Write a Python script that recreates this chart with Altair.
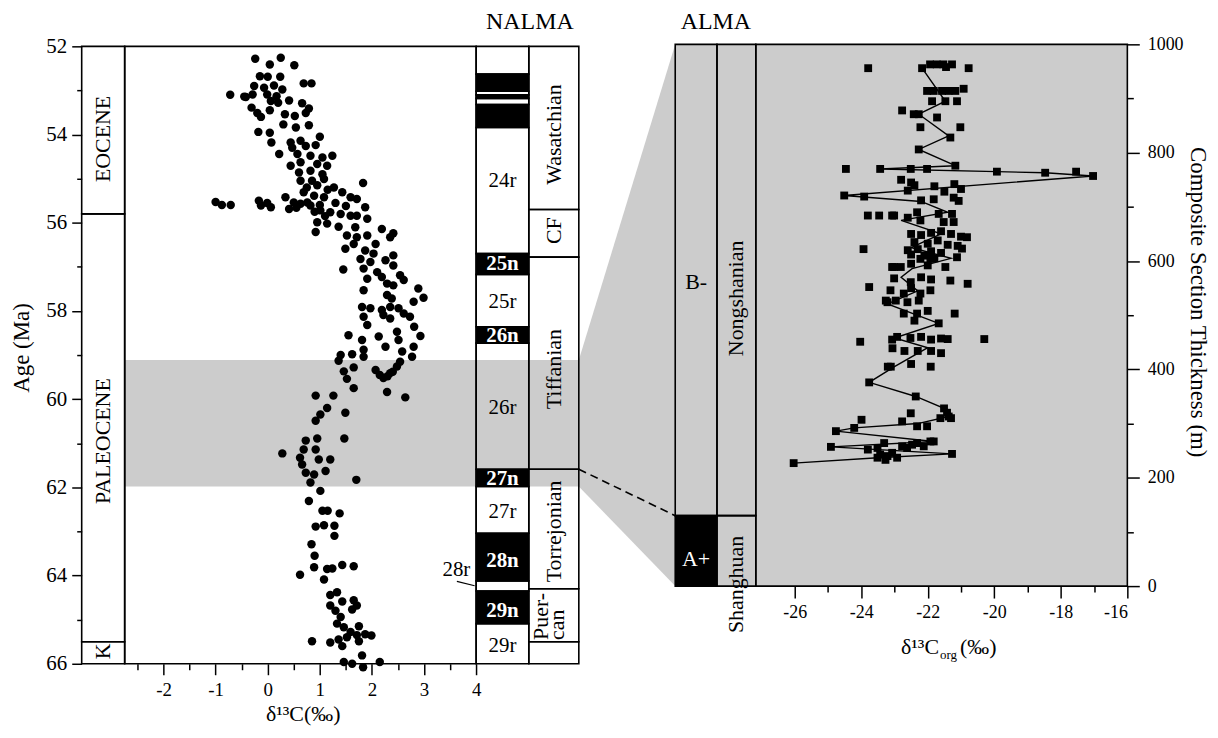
import altair as alt
import pandas as pd

FONT = "Liberation Serif"
GRAY = "#cccccc"

# ---------------- left panel: bulk carbonate d13C vs age ----------------
carb_d13c = [-0.24, 0.25, 0.04, 0.51, -0.15, 0.00, 0.24, 0.69, 0.84, -0.26, -0.07, 0.12, 0.28, -0.72, -0.45,
             -0.29, -0.01, 0.17, 0.06, 0.20, 0.41, 0.66, 0.79, -0.31, -0.20, -0.13, 0.04, 0.33, 0.52, 0.73,
             0.30, 0.54, 0.79, -0.18, 0.04, 0.07, 1.00, 0.44, 0.63, 0.47, 0.73, 0.92, 0.22, 0.57, 0.82,
             1.05, 1.24, 0.44, 0.63, 0.95, 1.14, 0.60, 0.82, 1.05, 0.63, 0.85, 1.08, 1.83, 1.27, 1.43,
             1.59, 1.71, 0.69, 0.89, 1.08, 0.34, -1.00, -0.88, -0.71, -0.17, -0.01, 0.50, 0.76, -0.42, 0.95,
             1.15, 0.75, 1.00, 1.30, 1.50, 0.55, 1.10, 0.90,
             -0.13, 0.06, 0.41, 0.63, 0.82, 1.01, 1.20, 1.40, 1.59, 1.71, 1.87, 1.91, 0.95, 1.14, 1.36,
             0.92, 1.68, 2.19, 2.41, 2.35, 1.52, 1.71, 1.91, 1.65, 1.49, 2.07, 1.87, 2.03, 1.78, 2.41,
             2.26, 1.97, 2.41, 1.45, 1.84, 2.10, 1.91, 2.19, 2.54, 2.61, 2.29, 2.41, 2.89, 2.99, 1.84,
             2.29, 2.38, 2.80, 1.81, 1.97, 2.19, 2.35, 2.51, 2.61, 1.84, 2.22, 2.35, 2.73, 1.91, 2.81,
             1.55, 1.81, 2.13, 2.26, 2.48, 2.51, 2.93, 2.80, 2.58, 1.84, 1.40, 1.62, 2.77,
             1.36, 1.46, 1.65, 1.52, 1.65, 1.84, 2.07, 2.22, 2.35, 2.48, 2.54, 2.29, 2.64, 0.92, 1.26,
             1.14, 1.01, 0.92, 1.49, 0.95, 0.73, 1.47, 0.28, 0.69, 0.92, 0.62, 0.98, 1.20, 0.66, 0.73,
             0.89, 1.11, 0.82, 1.70, 1.01, 0.79, 1.05, 1.15, 1.38, 2.15, 2.30, 2.40,
             0.92, 1.08, 1.28, 1.28, 0.84, 0.90, 0.89, 1.14, 1.24, 1.43, 1.65, 0.62, 1.08, 1.20, 1.33,
             1.43, 1.65, 1.71, 1.20, 1.62, 1.30, 1.40, 1.33, 1.46, 1.75, 1.59, 1.71, 1.87, 1.99, 1.52,
             1.75, 1.36, 1.20, 1.43, 0.85, 1.81, 1.46, 1.62, 2.15, 1.83]
carb_age = [52.28, 52.26, 52.41, 52.43, 52.68, 52.69, 52.69, 52.84, 52.84, 52.90, 52.94, 52.89, 52.98, 53.10, 53.14,
            53.09, 53.09, 53.13, 53.24, 53.28, 53.23, 53.29, 53.41, 53.39, 53.51, 53.60, 53.45, 53.54, 53.58, 53.51,
            53.77, 53.84, 53.79, 53.94, 53.96, 54.18, 54.05, 54.18, 54.14, 54.30, 54.26, 54.24, 54.44, 54.44, 54.48,
            54.52, 54.48, 54.71, 54.63, 54.67, 54.71, 54.86, 54.82, 54.90, 55.05, 55.05, 55.01, 55.10, 55.20, 55.31,
            55.42, 55.46, 55.31, 55.39, 55.42, 55.42, 55.53, 55.60, 55.60, 55.50, 55.55, 55.54, 55.54, 53.15, 55.15,
            55.25, 55.20, 55.60, 55.55, 55.62, 55.66, 55.85, 55.75,
            55.61, 55.65, 55.69, 55.57, 55.61, 55.72, 55.76, 55.80, 55.84, 55.84, 55.65, 55.91, 55.99, 56.02, 56.09,
            56.21, 56.10, 56.14, 56.24, 56.33, 56.29, 56.33, 56.29, 56.48, 56.59, 56.48, 56.63, 56.70, 56.82, 56.74,
            56.85, 56.89, 56.97, 57.06, 57.04, 57.12, 57.27, 57.23, 57.19, 57.30, 57.38, 57.42, 57.49, 57.70, 57.53,
            57.64, 57.72, 57.79, 57.91, 57.94, 57.98, 57.91, 57.94, 58.06, 58.13, 58.09, 58.17, 58.13, 58.32, 58.36,
            58.55, 58.66, 58.58, 58.81, 58.47, 58.66, 58.57, 58.81, 58.92, 58.88, 59.00, 58.98, 59.04,
            59.13, 59.37, 59.28, 59.54, 59.75, 59.04, 59.34, 59.52, 59.41, 59.26, 59.15, 59.84, 59.96, 59.92, 59.92,
            60.20, 60.35, 60.49, 60.31, 60.89, 60.94, 60.89, 61.23, 61.14, 61.14, 61.33, 61.37, 61.37, 61.48, 61.67,
            61.71, 61.63, 61.89, 61.83, 62.08, 62.31, 62.53, 62.53, 62.59, 59.45, 59.48, 59.38,
            62.89, 62.86, 62.87, 63.10, 63.29, 63.55, 63.81, 63.85, 63.84, 63.76, 63.79, 63.98, 64.09, 64.44, 64.38,
            64.59, 64.56, 64.68, 64.68, 64.77, 64.80, 64.94, 65.09, 65.17, 65.15, 65.28, 65.35, 65.33, 65.36, 65.40,
            65.49, 65.45, 65.52, 65.60, 65.49, 65.81, 65.96, 66.00, 65.96, 66.08]

# epochs
epoch_name = ["EOCENE", "PALEOCENE", "K"]
epoch_top = [52.0, 55.8, 65.5]
epoch_base = [55.8, 65.5, 66.0]
epoch_label_age = [54.1, 60.95, 65.72]

# magnetic polarity chrons (1 = normal / black)
chron_top = [52.0, 52.63, 53.02, 53.10, 53.18, 53.32, 53.84, 56.70, 57.17, 58.36, 58.73, 61.59, 61.98, 63.04,
             64.12, 64.35, 65.09]
chron_base = [52.63, 53.02, 53.10, 53.18, 53.32, 53.84, 56.70, 57.17, 58.36, 58.73, 61.59, 61.98, 63.04, 64.12,
              64.35, 65.09, 66.0]
chron_normal = [0, 1, 0, 1, 0, 1, 0, 1, 0, 1, 0, 1, 0, 1, 0, 1, 0]
chron_label = ["24r", "25n", "25r", "26n", "26r", "27n", "27r", "28n", "29n", "29r"]
chron_label_age = [55.05, 56.93, 57.80, 58.57, 60.20, 61.80, 62.55, 63.68, 64.80, 65.60]
chron_label_normal = [0, 1, 0, 1, 0, 1, 0, 1, 1, 0]

# North American Land Mammal Ages
nalma_top = [52.0, 55.70, 56.78, 61.59, 64.30, 65.50]
nalma_base = [55.70, 56.78, 61.59, 64.30, 65.50, 66.0]
nalma_name = ["Wasatchian", "CF", "Tiffanian", "Torrejonian"]
nalma_label_age = [54.0, 56.18, 59.32, 63.0]

band_top, band_base = 59.11, 61.98

# ---------------- right panel: organic d13C vs thickness ----------------
org_d13c = [-23.79, -22.17, -21.93, -21.73, -21.53, -21.27, -21.45, -20.77,
            -22.02, -21.82, -21.57, -21.37, -21.17, -20.92, -21.87, -21.47, -21.12,
            -22.77, -22.42, -22.27, -21.72, -22.22, -21.02, -21.32, -22.27, -21.17,
            -24.46, -23.43, -22.51, -22.02, -19.92, -18.47, -17.54, -17.03,
            -22.80, -22.50, -22.40, -21.80, -21.20, -22.60, -21.50, -21.00,
            -24.51, -23.91, -21.82, -21.22, -21.07, -22.20,
            -23.80, -23.46, -23.07, -23.01, -22.32, -21.67, -21.27, -21.52, -21.22, -22.22, -22.60,
            -22.50, -22.20, -21.90, -21.60, -21.30, -21.00, -20.82, -22.40, -22.00, -21.70, -21.40, -21.10,
            -22.60, -22.30, -21.90, -21.60, -20.97, -21.12, -22.10, -21.80, -22.50, -23.93,
            -22.22, -21.92, -23.01, -22.81, -21.47, -23.07, -22.50, -22.00,
            -23.01, -22.51, -21.32, -20.80, -22.20, -21.90,
            -23.76, -23.12, -22.72, -22.22, -21.92, -22.50,
            -23.21, -22.96, -22.61, -22.27, -23.26,
            -22.72, -22.32, -21.19, -22.00, -21.67, -22.40,
            -24.03, -23.07, -22.92, -22.52, -22.20, -21.90, -21.60, -21.40, -20.30,
            -23.06, -22.70, -22.30, -21.90, -21.60,
            -23.11, -23.20, -21.91, -22.50, -23.76, -22.36,
            -21.51, -21.42, -22.51, -21.37, -21.62, -21.30, -23.99, -22.77, -22.32, -22.02, -24.21, -24.76,
            -21.82, -21.92, -22.32, -23.31, -22.47, -22.12, -22.77, -24.91, -23.51, -22.62, -23.80, -23.07,
            -21.27, -23.43, -23.21, -22.92, -23.51, -23.27, -26.03]
org_thick = [956, 956, 963, 963, 963, 963, 958, 956,
             914, 914, 914, 914, 914, 918, 895, 895, 895,
             878, 871, 871, 865, 847, 847, 828, 806, 776,
             770, 770, 770, 770, 765, 763, 765, 757,
             750, 745, 740, 738, 742, 730, 728, 733,
             721, 719, 714, 717, 711, 712,
             684, 684, 684, 684, 690, 687, 687, 672, 672, 675, 680,
             650, 648, 652, 655, 650, 645, 644, 635, 632, 638, 630, 628,
             620, 622, 618, 615, 623, 607, 610, 605, 612, 622,
             604, 604, 589, 589, 589, 589, 595, 592,
             568, 561, 564, 558, 570, 566,
             552, 546, 540, 540, 546, 550,
             524, 527, 524, 527, 527,
             503, 503, 503, 508, 485, 490,
             451, 455, 460, 458, 460, 455, 457, 456, 456,
             439, 434, 434, 434, 430,
             405, 405, 405, 410, 376, 350,
             328, 320, 319, 313, 310, 310, 307, 304, 295, 295, 292, 286,
             267, 267, 264, 264, 261, 258, 258, 257, 255, 255, 252, 246,
             244, 243, 240, 237, 237, 233, 227]

line_d13c = [-26.03, -23.50, -21.27, -24.91, -21.82, -24.76, -24.21, -22.30, -21.37, -21.51, -22.36, -23.76,
             -23.00, -22.00, -23.00, -21.67, -23.21, -22.30, -22.80, -22.47, -21.30, -22.50, -21.60, -22.80,
             -21.40, -22.20, -24.51, -17.03, -18.47, -19.92, -23.43, -21.17, -22.27, -21.37, -22.27, -21.47,
             -22.17]
line_thick = [227, 237, 244, 257, 267, 286, 292, 300, 313, 328, 350, 376,
              405, 440, 458, 485, 521, 545, 570, 586, 605, 625, 650, 675,
              690, 710, 721, 757, 763, 765, 770, 776, 806, 831, 871, 895,
              956]

# Asian Land Mammal Ages
alma_zone = ["A+", "B-"]
alma_stage = ["Shanghuan", "Nongshanian"]
alma_bottom = [0, 130]
alma_topm = [130, 1000]
alma_zone_label_m = [50, 562]
alma_stage_label_m = [3, 531]

# ---------------- layout constants ----------------
AGE_TOP = 51.955
WL, HL = 596, 622
WR, HR = 454, 544
XL_MIN, XL_MAX = -3.57, 7.82
EPOCH_X2 = -2.745
CHRON_X2 = 5.01
NALMA_X2 = 5.97
XR_MIN, XR_MAX = -29.59, -16.0
COL1_X2 = -28.335
COL2_X2 = -27.168

XL = alt.Scale(domain=[XL_MIN, XL_MAX], nice=False, zero=False)
YL = alt.Scale(domain=[AGE_TOP, 66], reverse=True, nice=False, zero=False)
XR = alt.Scale(domain=[XR_MIN, XR_MAX], nice=False, zero=False)
YR = alt.Scale(domain=[0, 1000], nice=False, zero=False)

AX_X_LEFT = alt.Axis(values=[v / 2 for v in range(-5, 9)], domain=False, grid=False,
                     tickColor="black", tickWidth=1.5,
                     tickSize={"condition": {"test": "datum.value % 1 == 0", "value": 11}, "value": 6},
                     labelExpr="datum.value % 1 == 0 ? (datum.value < 0 ? '-' : '') + abs(datum.value) : ''",
                     labelFont=FONT, labelFontSize=19, labelColor="black", labelPadding=6, title=None)
AX_Y_LEFT = alt.Axis(values=list(range(52, 67)), domain=False, grid=False,
                     tickColor="black", tickWidth=1.5,
                     tickSize={"condition": {"test": "datum.value % 2 == 0", "value": 10}, "value": 5},
                     labelExpr="datum.value % 2 == 0 ? '' + datum.value : ''",
                     labelFont=FONT, labelFontSize=21, labelColor="black", labelPadding=5, title=None)
AX_X_RIGHT = alt.Axis(values=list(range(-26, -15)), domain=False, grid=False,
                      tickColor="black", tickWidth=1.5,
                      tickSize={"condition": {"test": "datum.value % 2 == 0", "value": 12}, "value": 6},
                      labelExpr="datum.value % 2 == 0 ? '-' + abs(datum.value) : ''",
                      labelFont=FONT, labelFontSize=18, labelColor="black", labelPadding=6, title=None)
AX_Y_RIGHT = alt.Axis(orient="right", values=list(range(0, 1001, 100)), domain=False, grid=False,
                      tickColor="black", tickWidth=1.5,
                      tickSize={"condition": {"test": "datum.value % 200 == 0", "value": 12}, "value": 6},
                      labelExpr="datum.value % 200 == 0 ? '' + datum.value : ''",
                      labelFont=FONT, labelFontSize=18, labelColor="black", labelPadding=8, title=None)


def lx(f):
    return alt.X(f, type="quantitative", scale=XL, axis=AX_X_LEFT)


def ly(f):
    return alt.Y(f, type="quantitative", scale=YL, axis=AX_Y_LEFT)


def rx(f):
    return alt.X(f, type="quantitative", scale=XR, axis=AX_X_RIGHT)


def ry(f):
    return alt.Y(f, type="quantitative", scale=YR, axis=AX_Y_RIGHT)


def age_from_right(m):
    # vertical position of a right-panel thickness expressed on the left age scale
    return AGE_TOP + (1 - m / 1000.0) * HR * (66 - AGE_TOP) / HL


def left_text(t, x, y, **kw):
    return alt.Chart(pd.DataFrame({"t": [t], "x": [x], "y": [y]})).mark_text(
        font=FONT, color="black", **kw).encode(x=lx("x"), y=ly("y"), text="t:N")


def right_text(t, x, m, **kw):
    return alt.Chart(pd.DataFrame({"t": [t], "x": [x], "m": [m]})).mark_text(
        font=FONT, color="black", **kw).encode(x=rx("x"), y=ry("m"), text="t:N")


# ---------- left chart layers ----------
band = alt.Chart(pd.DataFrame({"x": [EPOCH_X2], "x2": [NALMA_X2], "y": [band_top], "y2": [band_base]})
                 ).mark_rect(color=GRAY).encode(x=lx("x"), x2="x2", y=ly("y"), y2="y2")

conn = alt.Chart(pd.DataFrame({"x": [NALMA_X2, XL_MAX], "y": [band_top, AGE_TOP],
                               "y2": [band_base, age_from_right(0)]})
                 ).mark_area(color=GRAY, opacity=1).encode(x=lx("x"), y=ly("y"), y2="y2")

cells = []
for t, b in zip(epoch_top, epoch_base):
    cells.append({"x": XL_MIN, "x2": EPOCH_X2, "y": t, "y2": b, "fill": "transparent"})
for t, b, n in zip(chron_top, chron_base, chron_normal):
    cells.append({"x": 4.0, "x2": CHRON_X2, "y": t, "y2": b, "fill": "black" if n else "transparent"})
for t, b in zip(nalma_top, nalma_base):
    cells.append({"x": CHRON_X2, "x2": NALMA_X2, "y": t, "y2": b, "fill": "transparent"})
cells.append({"x": EPOCH_X2, "x2": 4.0, "y": 52.0, "y2": 66.0, "fill": "transparent"})
cells_df = pd.DataFrame(cells)
cell_layer = alt.Chart(cells_df).mark_rect(stroke="black", strokeWidth=1.6).encode(
    x=lx("x"), x2="x2", y=ly("y"), y2="y2", fill=alt.Fill("fill:N", scale=None))

dash = alt.Chart(pd.DataFrame({"x": [NALMA_X2, XL_MAX], "y": [61.59, age_from_right(130)]})
                 ).mark_line(color="black", strokeWidth=1.6, strokeDash=[8, 5]).encode(x=lx("x"), y=ly("y"))

carb_df = pd.DataFrame({"d13c": carb_d13c, "age": carb_age})
pts = alt.Chart(carb_df).mark_circle(size=72, color="black", opacity=1).encode(
    x=lx("d13c"), y=ly("age"))

epoch_txt = alt.Chart(pd.DataFrame({"t": epoch_name, "y": epoch_label_age,
                                    "x": [(XL_MIN + EPOCH_X2) / 2] * 3})
                      ).mark_text(angle=270, font=FONT, fontSize=22, color="black").encode(
    x=lx("x"), y=ly("y"), text="t:N")

chron_df = pd.DataFrame({"t": chron_label, "y": chron_label_age, "n": chron_label_normal,
                         "x": [(4.0 + CHRON_X2) / 2] * len(chron_label)})
chron_r = alt.Chart(chron_df).transform_filter("datum.n == 0").mark_text(
    font=FONT, fontSize=21, color="black").encode(x=lx("x"), y=ly("y"), text="t:N")
chron_n = alt.Chart(chron_df).transform_filter("datum.n == 1").mark_text(
    font=FONT, fontSize=21, color="white", fontWeight="bold").encode(x=lx("x"), y=ly("y"), text="t:N")

lbl28 = left_text("28r", 3.62, 63.88, fontSize=21)
lead28 = alt.Chart(pd.DataFrame({"x": [3.63], "x2": [3.97], "y": [64.13], "y2": [64.23]})).mark_rule(
    color="black", strokeWidth=1.2).encode(x=lx("x"), x2="x2", y=ly("y"), y2="y2")

nalma_txt = alt.Chart(pd.DataFrame({"t": nalma_name, "y": nalma_label_age,
                                    "x": [(CHRON_X2 + NALMA_X2) / 2] * 4})
                      ).mark_text(angle=270, font=FONT, fontSize=22, color="black").encode(
    x=lx("x"), y=ly("y"), text="t:N")
puer_txt = alt.Chart(pd.DataFrame({"t": ["Puer-", "can"], "x": [5.25, 5.56], "y": [65.46, 65.46]})
                     ).mark_text(angle=270, align="left", font=FONT, fontSize=22, color="black").encode(
    x=lx("x"), y=ly("y"), text="t:N")

nalma_title = left_text("NALMA", 5.03, 51.44, fontSize=24)
xl_title = left_text("δ¹³C(‰)", 0.68, 67.15, fontSize=22)
yl_title = left_text("Age (Ma)", -4.71, 58.84, fontSize=23, angle=270)

left = alt.layer(band, conn, pts, cell_layer, dash, epoch_txt, chron_r, chron_n, lbl28, lead28,
                 nalma_txt, puer_txt, nalma_title, xl_title, yl_title).properties(width=WL, height=HL)

# ---------- right chart layers ----------
bg = alt.Chart(pd.DataFrame({"x": [XR_MIN], "x2": [XR_MAX], "y": [0], "y2": [1000]})).mark_rect(
    color=GRAY).encode(x=rx("x"), x2="x2", y=ry("y"), y2="y2")

rcells = []
for z, b, t in zip(alma_zone, alma_bottom, alma_topm):
    rcells.append({"x": XR_MIN, "x2": COL1_X2, "y": b, "y2": t, "fill": "black" if z == "A+" else "transparent"})
for b, t in zip(alma_bottom, alma_topm):
    rcells.append({"x": COL1_X2, "x2": COL2_X2, "y": b, "y2": t, "fill": "transparent"})
rcells.append({"x": COL2_X2, "x2": XR_MAX, "y": 0, "y2": 1000, "fill": "transparent"})
rcell_layer = alt.Chart(pd.DataFrame(rcells)).mark_rect(stroke="black", strokeWidth=1.6).encode(
    x=rx("x"), x2="x2", y=ry("y"), y2="y2", fill=alt.Fill("fill:N", scale=None))

line_df = pd.DataFrame({"d": line_d13c, "m": line_thick})
rline = alt.Chart(line_df).mark_line(color="black", strokeWidth=1.4).encode(
    x=rx("d"), y=ry("m"), order="m:Q")

org_df = pd.DataFrame({"d": org_d13c, "m": org_thick})
sq = alt.Chart(org_df).mark_square(size=62, color="black", opacity=1).encode(
    x=rx("d"), y=ry("m"))

zone_df = pd.DataFrame({"t": alma_zone, "m": alma_zone_label_m, "c": ["white", "black"],
                        "x": [(XR_MIN + COL1_X2) / 2] * 2})
zone_txt = alt.Chart(zone_df).mark_text(font=FONT, fontSize=22).encode(
    x=rx("x"), y=ry("m"), text="t:N", color=alt.Color("c:N", scale=None))
stage_txt = alt.Chart(pd.DataFrame({"t": alma_stage, "m": alma_stage_label_m,
                                    "x": [(COL1_X2 + COL2_X2) / 2] * 2})
                      ).mark_text(angle=270, font=FONT, fontSize=22, color="black").encode(
    x=rx("x"), y=ry("m"), text="t:N")
alma_title = right_text("ALMA", -28.37, 1042, fontSize=24)
t1 = right_text("δ¹³C", -21.66, -112, fontSize=22, align="right")
t2 = right_text("org", -21.66, -112, fontSize=13, align="left", dx=1, dy=8)
t3 = right_text("(‰)", -21.03, -112, fontSize=22, align="left")
yr_title = right_text("Composite Section Thickness (m)", -13.87, 524, fontSize=23, angle=90)

right = alt.layer(bg, rcell_layer, rline, sq, zone_txt, stage_txt, alma_title, t1, t2, t3, yr_title
                  ).properties(width=WR, height=HR)

chart = alt.hconcat(left, right, spacing=0, bounds="flush").properties(
    padding={"left": 3, "top": 0, "right": 0, "bottom": 0}
).configure(font=FONT).configure_view(strokeWidth=0, stroke="transparent")

chart.save("out.html", embed_options={"renderer": "svg", "actions": False})
